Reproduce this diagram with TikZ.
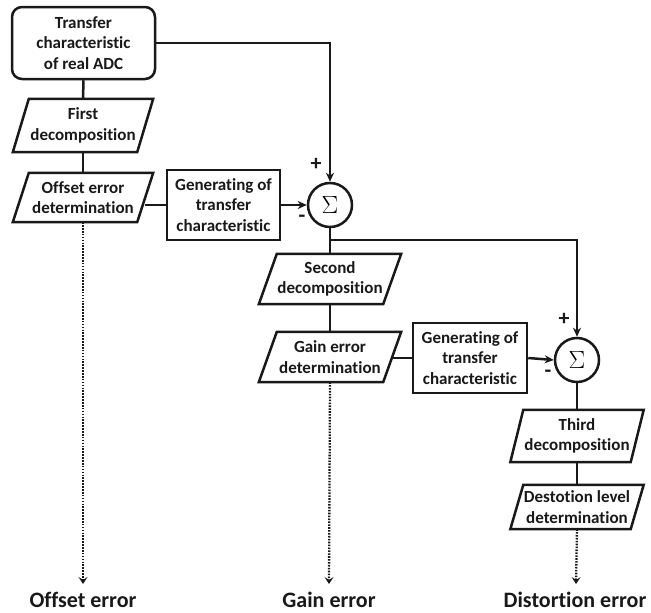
\documentclass[tikz,border=0pt]{standalone}
\usepackage{fontspec}
\setmainfont{Carlito}[RawFeature={-liga}]
\usetikzlibrary{arrows.meta,calc}
\tikzset{
  ln/.style={line width=2.5pt, draw=black!90},
  txt/.style={font=\bfseries\fontsize{17}{20.5}\selectfont, align=center, text=black!90, inner sep=0pt},
  rbox/.style={txt, draw=black!90, line width=2.5pt, rounded corners=10pt},
  gbox/.style={txt, draw=black!90, line width=2.5pt},
  sumnode/.style={circle, draw=black!90, line width=2.5pt, minimum size=44pt, inner sep=0pt, font=\fontsize{30}{30}\selectfont},
  pm/.style={font=\bfseries\fontsize{22}{22}\selectfont, text=black!90, inner sep=0pt},
  arr/.style={-{Stealth[length=9pt,width=8pt]}},
  dotarr/.style={line width=2.3pt, draw=black!90, dash pattern=on 1.6pt off 1.3pt, -{Stealth[length=7pt,width=9pt,inset=3pt]}},
  lbl/.style={font=\bfseries\fontsize{22}{22}\selectfont, text=black!90, inner sep=0pt, anchor=base},
}
% parallelogram: name, center, center-line width, height, half slant, text
\newcommand\paranode[6]{%
  \node[txt, minimum width=#3, minimum height=#4] (#1) at #2 {#6};
  \draw[ln, line join=miter] ([xshift=#5]#1.north west) -- ([xshift=#5]#1.north east)
     -- ([xshift=-#5]#1.south east) -- ([xshift=-#5]#1.south west) -- cycle;}
\begin{document}
\begin{tikzpicture}[x=1pt,y=-1pt]
\fill[white] (0,0) rectangle (651,613);
\useasboundingbox (0,0) rectangle (651,613);

% left column
\node[rbox, minimum width=143pt, minimum height=72pt] (top) at (83.5,43) {Transfer\\characteristic\\of real ADC};
\paranode{first}{(83,125.5)}{124pt}{53pt}{8pt}{First\\decomposition}
\paranode{off}{(83,197.5)}{124pt}{49pt}{8pt}{Offset error\\determination}
\node[gbox, minimum width=113pt, minimum height=70pt] (gen1) at (223.5,205) {Generating of\\transfer\\characteristic};
\node[sumnode] (s1) at (330,205) {$\Sigma$};

% middle column
\paranode{second}{(330,279)}{124pt}{50pt}{9pt}{Second\\decomposition}
\paranode{gain}{(330,357)}{124pt}{50pt}{9pt}{Gain error\\determination}
\node[gbox, minimum width=114pt, minimum height=70pt] (gen2) at (470,358) {Generating of\\transfer\\characteristic};
\node[sumnode] (s2) at (577,360) {$\Sigma$};

% right column
\paranode{third}{(577,436)}{120pt}{52pt}{6.5pt}{Third\\decomposition}
\paranode{dist}{(577,507)}{120pt}{44pt}{6.5pt}{Destotion level\\determination}

% signs
\node[pm] (p1) at ($(s1)+(-14,-41)$) {+};
\node[pm] (m1) at ($(s1)+(-28,14)$) {-};
\node[pm] (p2) at ($(s2)+(-13,-41)$) {+};
\node[pm] (m2) at ($(s2)+(-29,14)$) {-};

% outputs
\node[lbl] (o1) at (83,607) {Offset error};
\node[lbl] (o2) at (329,607) {Gain error};
\node[lbl] (o3) at (575,607) {Distortion error};
\coordinate (t1) at (83,584);
\coordinate (t2) at (329,584);
\coordinate (t3) at (576,584);
\coordinate (j1) at (330,240);

% connectors
\draw[ln] (top.south) -- (first.north);
\draw[ln] (first.south) -- (off.north);
\draw[ln] (gen1.west) -- (gen1.west -| off.east);
\draw[ln,arr] (gen1.east) -- (s1.west);
\draw[ln,arr] (top.east) -| (s1.north);
\draw[ln] (s1.south) -- (second.north);
\draw[ln] (second.south) -- (gain.north);
\draw[ln] (gen2.west) -- (gen2.west -| gain.east);
\draw[ln,arr] (gen2.east) -- (s2.west);
\draw[ln,arr] (j1) -| (s2.north);
\draw[ln] (s2.south) -- (third.north);
\draw[ln] (third.south) -- (dist.north);
\draw[dotarr] (off.south) -- (t1);
\draw[dotarr] (gain.south) -- (t2);
\draw[dotarr] (dist.south) -- (t3);
\end{tikzpicture}
\end{document}
